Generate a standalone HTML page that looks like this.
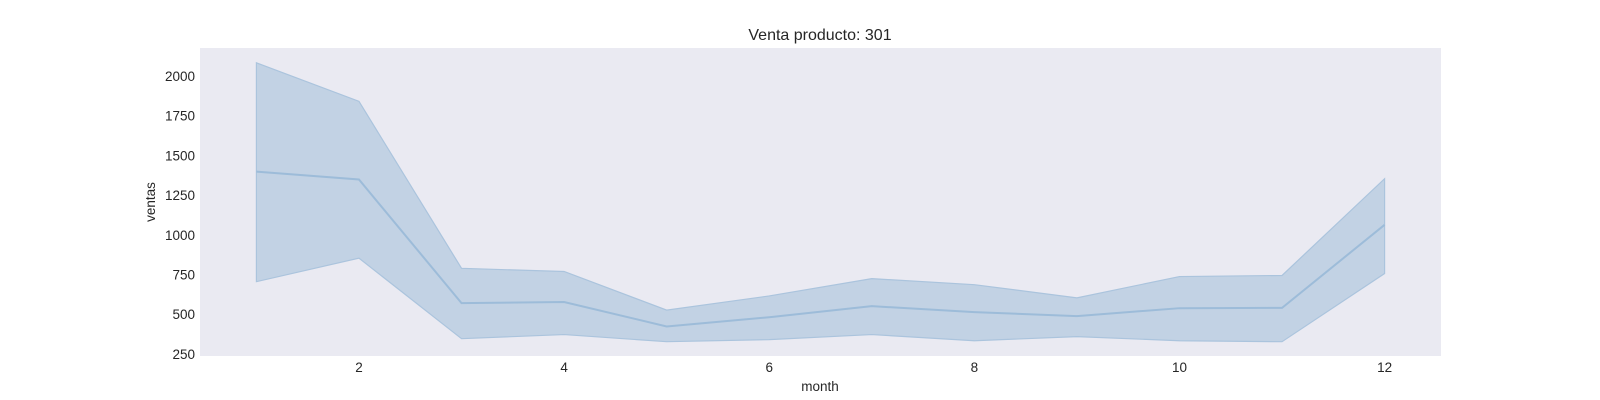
<!DOCTYPE html>
<html><head><meta charset="utf-8"><style>
body{margin:0;background:#fff;}
svg{display:block;font-family:"Liberation Sans",sans-serif;}
</style></head><body>
<svg id="chart" width="1600" height="400">
<rect x="200" y="48" width="1241" height="308" fill="#eaeaf2"/>
<text x="820" y="40" font-size="16" text-anchor="middle" fill="#262626">Venta producto: 301</text>
<text x="820" y="391" font-size="13.5" text-anchor="middle" fill="#262626">month</text>
<text transform="translate(155,202) rotate(-90)" font-size="13.5" text-anchor="middle" fill="#262626">ventas</text>
<g id="layer"></g>
</svg>
<script>
const months=[1,2,3,4,5,6,7,8,9,10,11,12];
const meanVals=[1398,1348,570,577,423,481,551,513,488,538,540,1063];
const upperVals=[2083,1840,789,769,526,615,724,686,603,737,744,1353];
const lowerVals=[705,853,346,372,327,340,372,333,359,333,327,756];
const xTicks=[2,4,6,8,10,12];
const yTicks=[250,500,750,1000,1250,1500,1750,2000];
const L=200,R=1441,T=48,B=356,xMin=0.45,xMax=12.55,yMin=237,yMax=2176;
const sx=v=>L+(v-xMin)/(xMax-xMin)*(R-L);
const sy=v=>B-(v-yMin)/(yMax-yMin)*(B-T);
const NS='http://www.w3.org/2000/svg';
const g=document.getElementById('layer');
function mk(t,a){const e=document.createElementNS(NS,t);for(const k in a)e.setAttribute(k,a[k]);g.appendChild(e);return e;}
xTicks.forEach(v=>{const e=mk('text',{x:sx(v),y:372,'font-size':13.5,'text-anchor':'middle',fill:'#262626'});e.textContent=v;

});
yTicks.forEach(v=>{const e=mk('text',{x:195,y:sy(v)+5,'font-size':13.5,'text-anchor':'end',fill:'#262626'});e.textContent=v;

});
let d='';months.forEach((m,i)=>{d+=(i?'L':'M')+sx(m)+','+sy(upperVals[i]);});
for(let i=months.length-1;i>=0;i--)d+='L'+sx(months[i])+','+sy(lowerVals[i]);
const band=mk('path',{d:d+'Z',fill:'#c2d2e4',stroke:'#abc4dd','stroke-width':1.2});


const line=mk('polyline',{points:months.map((m,i)=>sx(m)+','+sy(meanVals[i])).join(' '),fill:'none',stroke:'#9dbcd9','stroke-width':2});


</script>
</body></html>
